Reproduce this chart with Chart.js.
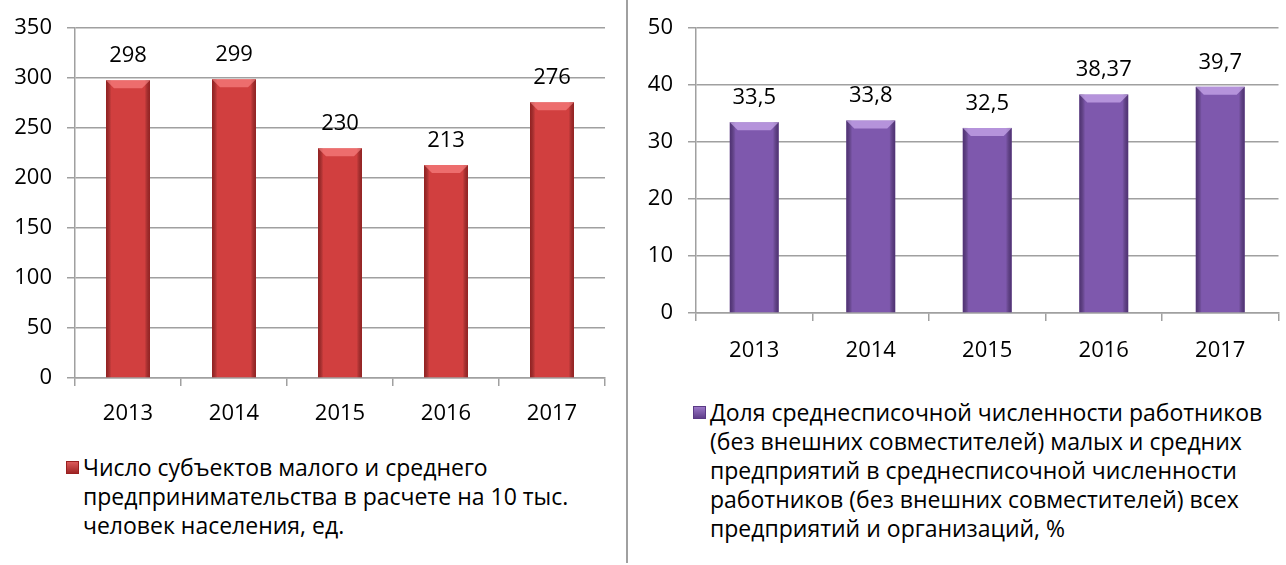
<!DOCTYPE html>
<html>
<head>
<meta charset="utf-8">
<script src="https://cdn.jsdelivr.net/npm/chart.js@4.4.1/dist/chart.umd.min.js"></script>
<style>
  html, body { margin: 0; padding: 0; background: #fff; }
  body { width: 1286px; height: 565px; position: relative; overflow: hidden; font-family: "Open Sans", sans-serif; }
  .wrap { position: absolute; }
  #sep { position: absolute; left: 626px; top: 0; width: 2px; height: 563px; background: #a0a0a0; }
  .legend { position: absolute; font-size: 23px; line-height: 29px; color: #000; white-space: nowrap; }
  .legend .mk { position: absolute; width: 13px; height: 13px; }
  .legend .ln { display: block; }
</style>
</head>
<body>
<div class="wrap" style="left:0;top:0;width:620px;height:440px;"><canvas id="c1"></canvas></div>
<div class="wrap" style="left:632px;top:0;width:654px;height:380px;"><canvas id="c2"></canvas></div>
<div id="sep"></div>
<div class="legend" id="lg1" style="left:83px;top:453px;"></div>
<div class="legend" id="lg2" style="left:710px;top:398px;"></div>
<script>
// ---- data ----
const years = ['2013', '2014', '2015', '2016', '2017'];
const smeCount = [298, 299, 230, 213, 276];
const employmentShare = [33.5, 33.8, 32.5, 38.37, 39.7];
const leftTicks = [0, 50, 100, 150, 200, 250, 300, 350];
const rightTicks = [0, 10, 20, 30, 40, 50];
const leftLegendLines = [
  'Число субъектов малого и среднего',
  'предпринимательства в расчете на 10 тыс.',
  'человек населения, ед.'
];
const rightLegendLines = [
  'Доля среднесписочной численности работников',
  '(без внешних совместителей) малых и средних',
  'предприятий в среднесписочной численности',
  'работников (без внешних совместителей) всех',
  'предприятий и организаций, %'
];

const FONT = '"Open Sans", sans-serif';
const GRID = '#a0a0a0';

function fmt(v) { return String(v).replace('.', ','); }

const barStyle = {
  id: 'barStyle',
  afterDatasetsDraw(chart, args, opts) {
    const ctx = chart.ctx;
    const meta = chart.getDatasetMeta(0);
    const ds = chart.data.datasets[0];
    meta.data.forEach((bar, i) => {
      const w = bar.width, x0 = bar.x - w / 2, x1 = bar.x + w / 2;
      const y0 = bar.y, y1 = bar.base;
      const b = Math.min(8, (y1 - y0) / 2);
      ctx.save();
      // side shading
      const g = ctx.createLinearGradient(x0, 0, x1, 0);
      g.addColorStop(0, opts.dark);
      g.addColorStop(0.12, 'rgba(0,0,0,0)');
      g.addColorStop(0.88, 'rgba(0,0,0,0)');
      g.addColorStop(1, opts.dark);
      ctx.fillStyle = g;
      ctx.fillRect(x0, y0, w, y1 - y0);
      // top bevel
      ctx.beginPath();
      ctx.moveTo(x0, y0); ctx.lineTo(x1, y0);
      ctx.lineTo(x1 - b, y0 + b); ctx.lineTo(x0 + b, y0 + b); ctx.closePath();
      ctx.fillStyle = opts.light;
      ctx.fill();
      // value label
      ctx.fillStyle = '#000';
      ctx.font = '22px ' + FONT;
      ctx.textAlign = 'center';
      ctx.textBaseline = 'alphabetic';
      ctx.fillText(fmt(ds.data[i]), bar.x, y0 - 18);
      ctx.restore();
    });
  }
};

function makeChart(id, data, ticks, max, color, dark, light, yWidth, xHeight, catPct, padRight, xPad) {
  return new Chart(document.getElementById(id), {
    type: 'bar',
    data: {
      labels: years,
      datasets: [{ data: data, backgroundColor: color, borderWidth: 0, barPercentage: 1, categoryPercentage: catPct }]
    },
    options: {
      responsive: true,
      maintainAspectRatio: false,
      animation: false,
      layout: { padding: { top: 28, right: padRight, left: 0, bottom: 0 } },
      plugins: {
        legend: { display: false },
        tooltip: { enabled: false },
        barStyle: { dark: dark, light: light }
      },
      scales: {
        x: {
          grid: { offset: true, drawOnChartArea: false, drawTicks: true, tickLength: 8, color: GRID, lineWidth: 1.5 },
          border: { display: true, color: GRID, width: 1.5 },
          ticks: { color: '#000', font: { family: FONT, size: 22 }, padding: xPad },
          afterFit(s) { s.height = xHeight; }
        },
        y: {
          min: 0, max: max,
          afterBuildTicks(s) { s.ticks = ticks.map(v => ({ value: v })); },
          grid: { color: GRID, lineWidth: 1.5, tickLength: 8 },
          border: { display: true, color: GRID, width: 1.5 },
          ticks: { color: '#000', font: { family: FONT, size: 22 }, padding: 15 },
          afterFit(s) { s.width = yWidth; }
        }
      }
    },
    plugins: [barStyle]
  });
}

makeChart('c1', smeCount, leftTicks, 350, '#d13f3f', 'rgba(110,15,15,0.6)', 'rgba(255,140,140,0.6)', 75, 62, 0.415, 15, 15);
makeChart('c2', employmentShare, rightTicks, 50, '#7e58ad', 'rgba(50,25,80,0.6)', 'rgba(210,180,245,0.65)', 64, 67, 0.42, 7.5, 17);

function buildLegend(id, lines, mkColor, mkDark, mkTop) {
  const el = document.getElementById(id);
  const mk = document.createElement('span');
  mk.className = 'mk';
  mk.style.left = '-17px';
  mk.style.top = mkTop + 'px';
  mk.style.background = 'linear-gradient(180deg,' + mkColor + ' 0%,' + mkDark + ' 100%)';
  mk.style.boxShadow = 'inset 0 0 0 1px ' + mkDark;
  el.appendChild(mk);
  lines.forEach(t => {
    const s = document.createElement('span');
    s.className = 'ln';
    s.textContent = t;
    el.appendChild(s);
  });
}
buildLegend('lg1', leftLegendLines, '#e06060', '#9a2020', 8);
buildLegend('lg2', rightLegendLines, '#a07ccc', '#5a3a85', 8);
</script>
</body>
</html>
